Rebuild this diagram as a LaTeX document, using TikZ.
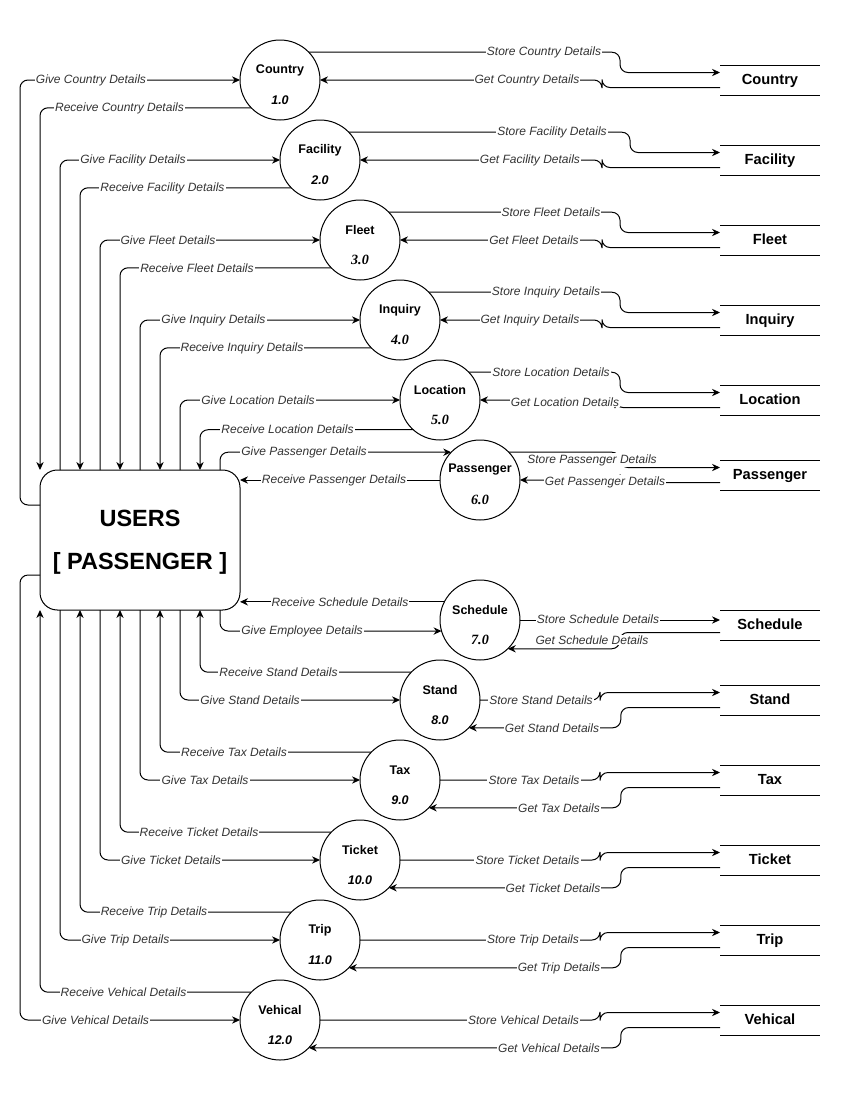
\documentclass[tikz,border=0pt]{standalone}
\usepackage{fontspec}
\setmainfont{Liberation Sans}
\newfontfamily\tnr{Liberation Serif}
\usetikzlibrary{arrows.meta,calc}
\tikzset{
  proc/.style={circle, draw, line width=0.75pt, minimum size=60pt, inner sep=0pt, outer sep=0pt},
  pname/.style={font=\fontsize{9.4}{11}\selectfont\bfseries, inner sep=0pt},
  pnum/.style={font=\fontsize{9.4}{11}\selectfont\bfseries\itshape, inner sep=0pt},
  numserif/.style={font=\fontsize{10.6}{12}\selectfont\tnr\bfseries\itshape, inner sep=0pt},
  store/.style={minimum width=75pt, minimum height=22.5pt, inner sep=0pt, outer sep=0pt, text height=1.5ex, text depth=0.3ex, font=\fontsize{11}{13}\selectfont\bfseries},
  users/.style={draw, line width=0.75pt, rounded corners=13pt, minimum width=150pt, minimum height=105pt, inner sep=0pt, outer sep=0pt},
  utext/.style={font=\fontsize{17.6}{20}\selectfont\bfseries, inner sep=0pt},
  lbl/.style={font=\fontsize{9}{10}\selectfont\itshape, text=black!80, fill=white, inner sep=0.8pt},
  flow/.style={line width=0.75pt, rounded corners=6pt, -{Stealth[length=6pt,width=5.5pt]}},
  plain/.style={line width=0.75pt},
}
\newcommand\mkproc[6]{%
  \node[proc] (#1) at (#2,#3) {};
  \node[pname] (#1t) at ($(#1)+(0,-10)$) {#4};
  \node[#6] (#1n) at ($(#1)+(0,20)$) {#5};
}
\newcommand\mkstore[3]{%
  \node[store] (#1) at (770,#2) {#3};
  \draw[plain] (#1.north west) -- (#1.north east) (#1.south west) -- (#1.south east);
}
\begin{document}
\begin{tikzpicture}[x=0.75pt,y=-0.75pt]
\useasboundingbox (0,0) rectangle (850,1100);

% external entity
\node[users] (U) at (140,540) {};
\node[utext] (Ut) at (140,518) {USERS};
\node[utext] (Up) at (140,563) {{[} PASSENGER {]}};

% processes
\mkproc{c1}{280}{80}{Country}{1.0}{pnum}
\mkproc{c2}{320}{160}{Facility}{2.0}{pnum}
\mkproc{c3}{360}{240}{Fleet}{3.0}{numserif}
\mkproc{c4}{400}{320}{Inquiry}{4.0}{numserif}
\mkproc{c5}{440}{400}{Location}{5.0}{numserif}
\mkproc{c6}{480}{480}{Passenger}{6.0}{numserif}
\mkproc{c7}{480}{620}{Schedule}{7.0}{numserif}
\mkproc{c8}{440}{700}{Stand}{8.0}{pnum}
\mkproc{c9}{400}{780}{Tax}{9.0}{pnum}
\mkproc{c10}{360}{860}{Ticket}{10.0}{pnum}
\mkproc{c11}{320}{940}{Trip}{11.0}{pnum}
\mkproc{c12}{280}{1020}{Vehical}{12.0}{pnum}

% data stores
\mkstore{s1}{80}{Country}
\mkstore{s2}{160}{Facility}
\mkstore{s3}{240}{Fleet}
\mkstore{s4}{320}{Inquiry}
\mkstore{s5}{400}{Location}
\mkstore{s6}{475}{Passenger}
\mkstore{s7}{625}{Schedule}
\mkstore{s8}{700}{Stand}
\mkstore{s9}{780}{Tax}
\mkstore{s10}{860}{Ticket}
\mkstore{s11}{940}{Trip}
\mkstore{s12}{1020}{Vehical}

% ---------- left side, upper group ----------
\draw[flow] ($(U.north west)+(0,35)$) -- ++(-20,0) |- (c1.west);
\node[lbl] (l1a) at (91,80) {Give Country Details};
\draw[flow] (c1.224) -| (U.north west);
\node[lbl] (l1b) at (119.5,108.5) {Receive Country Details};

\draw[flow] ($(U.north west)+(20,0)$) |- (c2.west);
\node[lbl] (l2a) at (133,160) {Give Facility Details};
\draw[flow] (c2.224) -| ($(U.north west)+(40,0)$);
\node[lbl] (l2b) at (162.5,188.5) {Receive Facility Details};

\draw[flow] ($(U.north west)+(60,0)$) |- (c3.west);
\node[lbl] (l3a) at (168,240) {Give Fleet Details};
\draw[flow] (c3.224) -| ($(U.north west)+(80,0)$);
\node[lbl] (l3b) at (197,268.5) {Receive Fleet Details};

\draw[flow] ($(U.north west)+(100,0)$) |- (c4.west);
\node[lbl] (l4a) at (213.5,320) {Give Inquiry Details};
\draw[flow] (c4.224) -| ($(U.north west)+(120,0)$);
\node[lbl] (l4b) at (242,348.5) {Receive Inquiry Details};

\draw[flow] ($(U.north west)+(140,0)$) |- (c5.west);
\node[lbl] (l5a) at (258,400) {Give Location Details};
\draw[flow] (c5.228) -| ($(U.north west)+(160,0)$);
\node[lbl] (l5b) at (287.5,429.5) {Receive Location Details};

\draw[flow] ($(U.north west)+(180,0)$) |- (c6.136);
\node[lbl] (l6a) at (304,452) {Give Passenger Details};
\draw[flow] (c6.west) -- (U.east |- c6.west);
\node[lbl] (l6b) at (334,480) {Receive Passenger Details};

% ---------- left side, lower group ----------
\draw[flow] (c7.153) -- (U.east |- c7.153);
\node[lbl] (l7b) at (340,602) {Receive Schedule Details};
\draw[flow] ($(U.south west)+(180,0)$) |- (c7.196);
\node[lbl] (l7a) at (302,631) {Give Employee Details};

\draw[flow] (c8.136) -| ($(U.south west)+(160,0)$);
\node[lbl] (l8b) at (278.5,672) {Receive Stand Details};
\draw[flow] ($(U.south west)+(140,0)$) |- (c8.west);
\node[lbl] (l8a) at (250,700) {Give Stand Details};

\draw[flow] (c9.136) -| ($(U.south west)+(120,0)$);
\node[lbl] (l9b) at (234,752) {Receive Tax Details};
\draw[flow] ($(U.south west)+(100,0)$) |- (c9.west);
\node[lbl] (l9a) at (205,780) {Give Tax Details};

\draw[flow] (c10.136) -| ($(U.south west)+(80,0)$);
\node[lbl] (l10b) at (199,832) {Receive Ticket Details};
\draw[flow] ($(U.south west)+(60,0)$) |- (c10.west);
\node[lbl] (l10a) at (171,860) {Give Ticket Details};

\draw[flow] (c11.136) -| ($(U.south west)+(40,0)$);
\node[lbl] (l11b) at (154,912) {Receive Trip Details};
\draw[flow] ($(U.south west)+(20,0)$) |- (c11.west);
\node[lbl] (l11a) at (125.5,940) {Give Trip Details};

\draw[flow] (c12.136) -| (U.south west);
\node[lbl] (l12b) at (123.5,992) {Receive Vehical Details};
\draw[flow] ($(U.south west)+(0,-35)$) -- ++(-20,0) |- (c12.west);
\node[lbl] (l12a) at (95.5,1020) {Give Vehical Details};

% ---------- right side, upper group ----------
\draw[flow] (c1.44) -| ($(s1.west)+(-100,-7.5)$) -- ($(s1.west)+(0,-7.5)$);
\node[lbl] (r1a) at (544,52.2) {Store Country Details};
\draw[flow] ($(s1.west)+(0,7.5)$) -| ($(c1.east)+(282,0)$) -- (c1.east);
\node[lbl] (r1b) at (527,80) {Get Country Details};

\draw[flow] (c2.44) -| ($(s2.west)+(-90,-7.5)$) -- ($(s2.west)+(0,-7.5)$);
\node[lbl] (r2a) at (552,132.2) {Store Facility Details};
\draw[flow] ($(s2.west)+(0,7.5)$) -| ($(c2.east)+(242,0)$) -- (c2.east);
\node[lbl] (r2b) at (530,160) {Get Facility Details};

\draw[flow] (c3.44) -| ($(s3.west)+(-100,-7.5)$) -- ($(s3.west)+(0,-7.5)$);
\node[lbl] (r3a) at (551,212.2) {Store Fleet Details};
\draw[flow] ($(s3.west)+(0,7.5)$) -| ($(c3.east)+(202,0)$) -- (c3.east);
\node[lbl] (r3b) at (534,240) {Get Fleet Details};

\draw[flow] (c4.44) -| ($(s4.west)+(-100,-7.5)$) -- ($(s4.west)+(0,-7.5)$);
\node[lbl] (r4a) at (546,292.2) {Store Inquiry Details};
\draw[flow] ($(s4.west)+(0,7.5)$) -| ($(c4.east)+(162,0)$) -- (c4.east);
\node[lbl] (r4b) at (530,320) {Get Inquiry Details};

\draw[flow] (c5.44) -| ($(s5.west)+(-100,-7.5)$) -- ($(s5.west)+(0,-7.5)$);
\node[lbl] (r5a) at (551,372.2) {Store Location Details};
\draw[flow] ($(s5.west)+(0,7.5)$) -| ($(c5.east)+(135,0)$) -- (c5.east);
\node[lbl] (r5b) at (565,402) {Get Location Details};

\draw[flow] (c6.44) -| ($(s6.west)+(-100,-7.5)$) -- ($(s6.west)+(0,-7.5)$);
\node[lbl] (r6a) at (592,460) {Store Passenger Details};
\draw[flow] ($(s6.west)+(0,7.5)$) -| ($(c6.east)+(100,0)$) -- (c6.east);
\node[lbl] (r6b) at (605,482) {Get Passenger Details};

% ---------- right side, lower group ----------
\draw[flow] (c7.east) -- (c7.east -| s7.west);
\node[lbl] (r7a) at (598,619) {Store Schedule Details};
\draw[flow] ($(s7.west)+(0,7.5)$) -| ($(c7.314)+(112,0)$) -- (c7.314);
\node[lbl] (r7b) at (592,640) {Get Schedule Details};

\draw[flow] (c8.east) -| ($(s8.west)+(-120,-7.5)$) -- ($(s8.west)+(0,-7.5)$);
\node[lbl] (r8a) at (541,700) {Store Stand Details};
\draw[flow] ($(s8.west)+(0,7.5)$) -| ($(c8.316)+(152,0)$) -- (c8.316);
\node[lbl] (r8b) at (552,728) {Get Stand Details};

\draw[flow] (c9.east) -| ($(s9.west)+(-120,-7.5)$) -- ($(s9.west)+(0,-7.5)$);
\node[lbl] (r9a) at (534,780) {Store Tax Details};
\draw[flow] ($(s9.west)+(0,7.5)$) -| ($(c9.316)+(192,0)$) -- (c9.316);
\node[lbl] (r9b) at (559,808) {Get Tax Details};

\draw[flow] (c10.east) -| ($(s10.west)+(-120,-7.5)$) -- ($(s10.west)+(0,-7.5)$);
\node[lbl] (r10a) at (527.5,860) {Store Ticket Details};
\draw[flow] ($(s10.west)+(0,7.5)$) -| ($(c10.316)+(232,0)$) -- (c10.316);
\node[lbl] (r10b) at (553,888) {Get Ticket Details};

\draw[flow] (c11.east) -| ($(s11.west)+(-120,-7.5)$) -- ($(s11.west)+(0,-7.5)$);
\node[lbl] (r11a) at (533,940) {Store Trip Details};
\draw[flow] ($(s11.west)+(0,7.5)$) -| ($(c11.316)+(272,0)$) -- (c11.316);
\node[lbl] (r11b) at (559,968) {Get Trip Details};

\draw[flow] (c12.east) -| ($(s12.west)+(-120,-7.5)$) -- ($(s12.west)+(0,-7.5)$);
\node[lbl] (r12a) at (523.5,1020) {Store Vehical Details};
\draw[flow] ($(s12.west)+(0,7.5)$) -| ($(c12.316)+(312,0)$) -- (c12.316);
\node[lbl] (r12b) at (549,1048) {Get Vehical Details};
\end{tikzpicture}
\end{document}
